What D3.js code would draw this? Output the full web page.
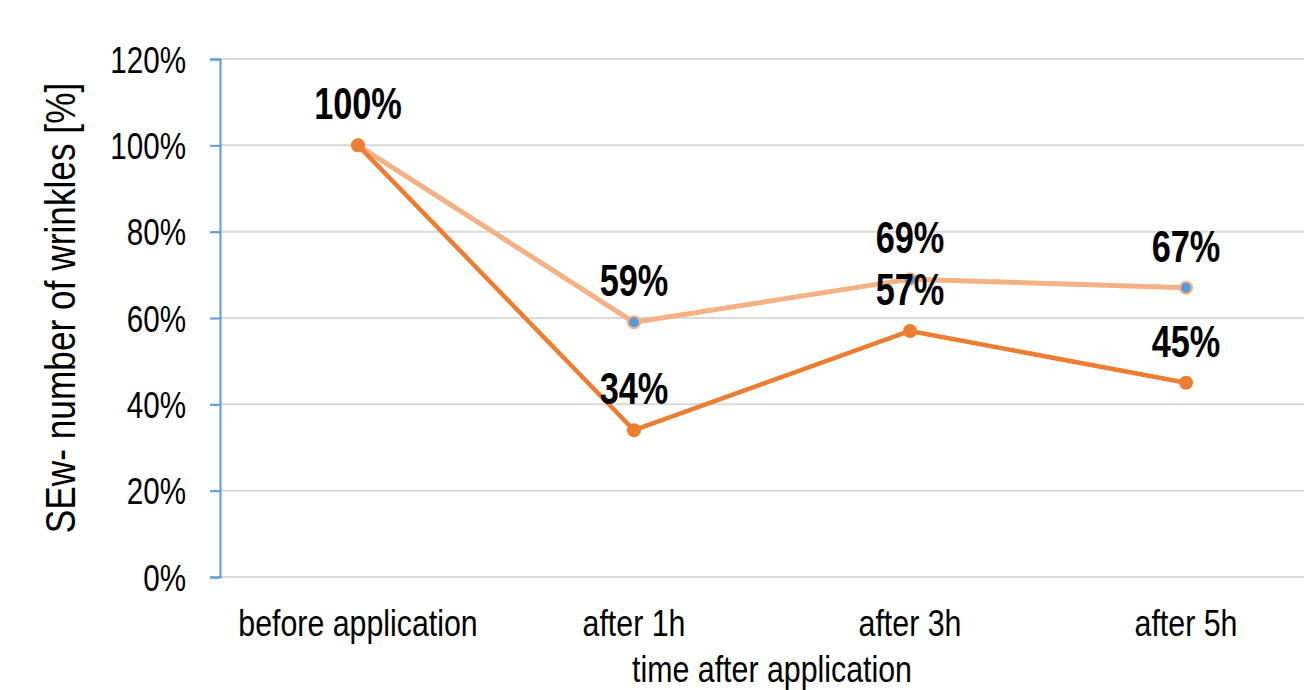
<!DOCTYPE html>
<html>
<head>
<meta charset="utf-8">
<script src="https://cdn.jsdelivr.net/npm/d3@7"></script>
<style>
  body { margin: 0; background: #fff; }
  svg text { font-family: "Liberation Sans Narrow", "Arial Narrow", "Liberation Sans", sans-serif; fill: #000; }
</style>
</head>
<body>
<svg id="chart"></svg>
<script>
// chart data
const categories = ["before application", "after 1h", "after 3h", "after 5h"];
const seriesLight = [100, 59, 69, 67];
const seriesDark = [100, 34, 57, 45];
const yTicks = [0, 20, 40, 60, 80, 100, 120];

const width = 1304;
const height = 690;
const margin = {left: 220, right: -20, top: 59, bottom: 113};
const squeeze = 0.82;  // no narrow font installed, so squash text horizontally

const svg = d3.select('#chart')
  .attr('width', width)
  .attr('height', height);

const x = d3.scalePoint()
  .domain(categories)
  .range([margin.left, width - margin.right])
  .padding(0.5);

const y = d3.scaleLinear()
  .domain([0, 120])
  .range([height - margin.bottom, margin.top]);

// gridlines
svg.append('g')
  .selectAll('line')
  .data(yTicks)
  .join('line')
  .attr('x1', margin.left)
  .attr('x2', width)
  .attr('y1', d => y(d))
  .attr('y2', d => y(d))
  .attr('stroke', '#d9d9d9')
  .attr('stroke-width', 2);

// y axis (blue, ticks out), labels drawn separately
const yAxis = svg.append('g')
  .attr('transform', `translate(${margin.left},0)`)
  .call(d3.axisLeft(y).tickValues(yTicks).tickSize(10).tickFormat(''));
yAxis.select('.domain').attr('stroke', '#5b9bd5').attr('stroke-width', 2);
yAxis.selectAll('.tick line').attr('stroke', '#5b9bd5').attr('stroke-width', 2);

svg.append('g')
  .selectAll('text')
  .data(yTicks)
  .join('text')
  .attr('transform', d => `translate(186,${y(d) + 13.5}) scale(0.8,1)`)
  .attr('text-anchor', 'end')
  .attr('font-size', 37)
  .text(d => d + '%');

// category labels
svg.append('g')
  .selectAll('text')
  .data(categories)
  .join('text')
  .attr('transform', d => `translate(${x(d)},${y(0) + 59}) scale(${squeeze},1)`)
  .attr('text-anchor', 'middle')
  .attr('font-size', 37)
  .text(d => d);

// axis titles
svg.append('text')
  .attr('transform', `translate(772,682) scale(${squeeze},1)`)
  .attr('text-anchor', 'middle')
  .attr('font-size', 37)
  .text('time after application');

svg.append('text')
  .attr('transform', `translate(75,${(y(0) + y(120)) / 2 - 10}) rotate(-90) scale(${squeeze},1)`)
  .attr('text-anchor', 'middle')
  .attr('font-size', 43)
  .text('SEw- number of wrinkles [%]');

const line = d3.line()
  .x((d, i) => x(categories[i]))
  .y(d => y(d));

// light series
svg.append('path')
  .datum(seriesLight)
  .attr('fill', 'none')
  .attr('stroke', '#f4b183')
  .attr('stroke-width', 5)
  .attr('stroke-linejoin', 'round')
  .attr('d', line);

svg.append('g')
  .selectAll('circle')
  .data(seriesLight)
  .join('circle')
  .attr('cx', (d, i) => x(categories[i]))
  .attr('cy', d => y(d))
  .attr('r', 6)
  .attr('fill', '#5b9bd5')
  .attr('stroke', '#f4b183')
  .attr('stroke-width', 2);

// dark series
svg.append('path')
  .datum(seriesDark)
  .attr('fill', 'none')
  .attr('stroke', '#ed7d31')
  .attr('stroke-width', 4.5)
  .attr('stroke-linejoin', 'round')
  .attr('d', line);

svg.append('g')
  .selectAll('circle')
  .data(seriesDark)
  .join('circle')
  .attr('cx', (d, i) => x(categories[i]))
  .attr('cy', d => y(d))
  .attr('r', 7)
  .attr('fill', '#ed7d31');

// data labels
const labels = seriesLight.map((v, i) => ({cat: categories[i], v: v}))
  .concat(seriesDark.map((v, i) => ({cat: categories[i], v: v})).slice(1));

svg.append('g')
  .selectAll('text')
  .data(labels)
  .join('text')
  .attr('transform', d => `translate(${x(d.cat)},${y(d.v) - 26}) scale(0.78,1)`)
  .attr('text-anchor', 'middle')
  .attr('font-size', 44)
  .attr('font-weight', 'bold')
  .text(d => d.v + '%');
</script>
</body>
</html>
